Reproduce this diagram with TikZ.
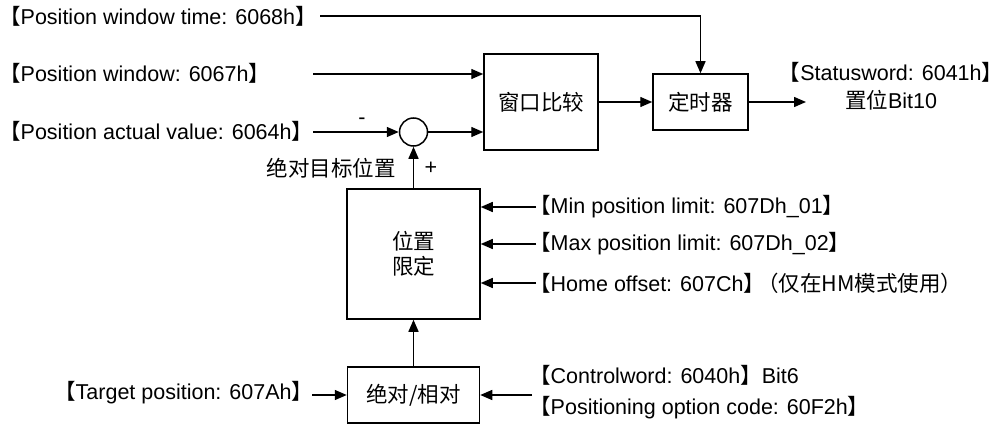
\documentclass[tikz,border=0pt]{standalone}
\usepackage{fontspec}
\setmainfont{Liberation Sans}
\newfontfamily\cjk{Noto Sans CJK SC}
\usetikzlibrary{arrows.meta}
\newcommand{\LBk}{{\cjk 【}}
\newcommand{\RBk}{{\cjk 】}}
\begin{document}
\begin{tikzpicture}[x=1pt,y=-1pt,
  lbl/.style={font=\fontsize{21.5}{24}\selectfont, inner sep=0pt},
  blk/.style={draw, line width=1.5pt, inner sep=0pt, font=\fontsize{21.5}{25}\selectfont\cjk, align=center},
  conn/.style={line width=1.4pt, -{Triangle[length=12pt,width=10pt]}},
  plain/.style={line width=1.4pt}]
\useasboundingbox (0,0) rectangle (1003,425);

% blocks
\node[blk, minimum width=114pt, minimum height=96pt] (cmp) at (541,102) {窗口比较};
\node[blk, minimum width=95pt, minimum height=56pt] (tmr) at (700.5,102) {定时器};
\node[blk, minimum width=133pt, minimum height=130pt] (lim) at (413.5,254) {位置\\限定};
\node[blk, minimum width=132pt, minimum height=56pt] (abs) at (413.5,395) {绝对/相对};
\node[draw, circle, line width=1.5pt, minimum size=28pt, inner sep=0pt] (sum) at (413.5,132) {};

% left labels
\node[lbl, anchor=west] (t1) at (-1,16) {\LBk Position window time: 6068h\RBk};
\node[lbl, anchor=west] (t2) at (-1,73) {\LBk Position window: 6067h\RBk};
\node[lbl, anchor=west] (t3) at (-1,131) {\LBk Position actual value: 6064h\RBk};
\node[lbl, anchor=west] (t4) at (54,393) {\LBk Target position: 607Ah\RBk};

\coordinate (s1) at (320,16);
\coordinate (s2) at (313,74);
\coordinate (s3) at (313,132);
\coordinate (s4) at (312,395);

\draw[conn] (s1) -| (tmr.north);
\draw[conn] (s2) -- (s2 -| cmp.west);
\draw[conn] (s3) -- (sum.west);
\draw[conn] (sum.east) -- (sum.east -| cmp.west);
\draw[conn] (cmp) -- (tmr);
\coordinate (o1) at (806,102);
\draw[conn] (tmr.east) -- (o1);
\draw[conn] (lim.north -| sum.south) -- (sum.south);
\draw[conn] (abs.north) -- (lim.south);
\draw[conn] (s4) -- (abs.west);

\node[lbl] (minus) at (362,121) {-};
\node[lbl] (plus) at (431,168) {+};
\node[lbl, anchor=east, font=\fontsize{21.5}{24}\selectfont\cjk] (abt) at (396,168) {绝对目标位置};

% output
\node[lbl, align=center, font=\fontsize{21.5}{28}\selectfont] (out) at (891,86) {\kern-10pt\LBk Statusword: 6041h\RBk\kern-10pt\\{\cjk 置位}Bit10};

% right side limit inputs
\coordinate (r1) at (536,207);
\coordinate (r2) at (536,244);
\coordinate (r3) at (536,283);
\draw[conn] (r1) -- (r1 -| lim.east);
\draw[conn] (r2) -- (r2 -| lim.east);
\draw[conn] (r3) -- (r3 -| lim.east);
\node[lbl, anchor=west] (m1) at (529,207) {\LBk Min position limit: 607Dh\_01\RBk};
\node[lbl, anchor=west] (m2) at (529,244) {\LBk Max position limit: 607Dh\_02\RBk};
\node[lbl, anchor=west] (m3) at (529,283) {\LBk Home offset: 607Ch\RBk\kern-8pt{\cjk （仅在HM模式使用）}};

% bottom right
\coordinate (r4) at (532,395);
\draw[conn] (r4) -- (abs.east);
\node[lbl, anchor=west, align=left, font=\fontsize{21.5}{31}\selectfont] (cw) at (529,392.5) {\LBk Controlword: 6040h\RBk Bit6\\\LBk Positioning option code: 60F2h\RBk};
\end{tikzpicture}
\end{document}
